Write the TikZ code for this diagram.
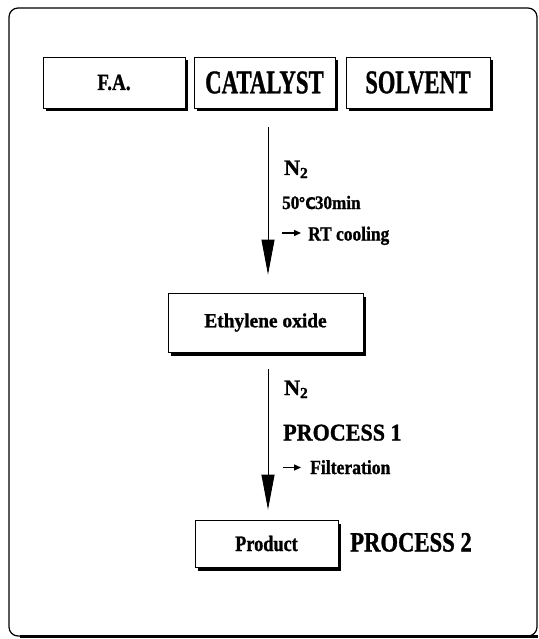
\documentclass[tikz,border=0pt]{standalone}
\usepackage{fontspec}
\setmainfont{Liberation Serif}[BoldFeatures={FakeBold=1.2}]
\newfontfamily\symfont{DejaVu Sans}[FakeBold=0.6]
\usetikzlibrary{arrows.meta,shadows}
\newcommand\tx[3]{{\fontsize{#1}{#1}\selectfont\bfseries\scalebox{#2}[1]{#3}}}
\tikzset{
  box/.style={draw=black, line width=0.8pt, fill=white, inner sep=0pt,
    drop shadow={shadow xshift=3pt, shadow yshift=-3.5pt, opacity=1, fill=black}},
  flow/.style={line width=0.9pt, -{Triangle[length=35pt,width=13pt]}},
  small/.style={line width=1.4pt, -{Triangle[length=7pt,width=6pt]}},
  lbl/.style={anchor=base west, inner sep=0pt}
}
\begin{document}
\begin{tikzpicture}[x=1pt,y=-1pt]
\useasboundingbox (0,0) rectangle (538,639);
% outer frame
\draw[rounded corners=9pt, line width=1.2pt] (9,8) rectangle (537,636);
\draw[line width=3pt] (20,636) -- (538,636);
% top boxes
\node[box, minimum width=142pt, minimum height=51pt] (fa) at (114,82.5) {\tx{23}{0.83}{F.A.}};
\node[box, minimum width=141pt, minimum height=51pt] (cat) at (264.5,82.5) {\tx{33}{0.69}{CATALYST}};
\node[box, minimum width=144pt, minimum height=51pt] (sol) at (418,82.5) {\tx{33}{0.68}{SOLVENT}};
% middle box
\node[box, minimum width=195pt, minimum height=59pt] (eo) at (265.5,322.5) {\tx{20}{0.97}{Ethylene oxide}};
% product box
\node[box, minimum width=143pt, minimum height=47pt] (prod) at (266.5,543.5) {\tx{22}{0.83}{Product}};
% arrows
\draw[flow] ([xshift=3.5pt,yshift=-19pt]cat.south) -- ([xshift=2.5pt,yshift=18pt]eo.north);
\draw[flow] ([xshift=2.5pt,yshift=-17pt]eo.south) -- ([xshift=1.5pt,yshift=10pt]prod.north);
% labels step 1
\node[lbl] (n1) at (284,175) {\tx{22}{1}{N$_{\mathbf 2}$}};
\node[lbl] (t1) at (282,209) {\tx{19}{0.9}{50\kern-1pt{\symfont\fontsize{16}{16}\selectfont ℃}\kern-1pt30min}};
\coordinate (s1) at (282,233);
\node[lbl] (rt) at (308,240.5) {\tx{20}{0.87}{RT cooling}};
\draw[small] (s1) -- ([xshift=-7pt,yshift=7.5pt]rt.base west);
% labels step 2
\node[lbl] (n2) at (284,395) {\tx{22}{1}{N$_{\mathbf 2}$}};
\node[lbl] (p1) at (283,440.5) {\tx{24}{0.92}{PROCESS 1}};
\coordinate (s2) at (283,467.5);
\node[lbl] (fil) at (310,474) {\tx{20}{0.88}{Filteration}};
\draw[small] (s2) -- ([xshift=-9pt,yshift=6.5pt]fil.base west);
% process 2
\node[lbl] (p2) at (350,551.5) {\tx{28}{0.81}{PROCESS 2}};
\end{tikzpicture}
\end{document}
